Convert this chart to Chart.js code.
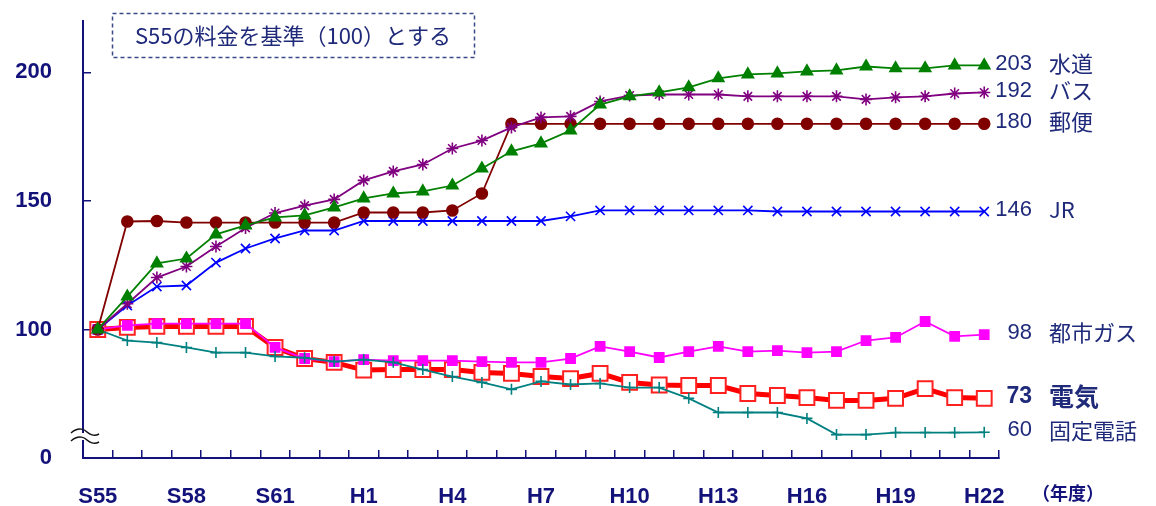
<!DOCTYPE html>
<html lang="ja">
<head>
<meta charset="utf-8">
<title>公共料金の推移</title>
<script src="https://cdn.jsdelivr.net/npm/chart.js@4.4.1/dist/chart.umd.min.js"></script>
<style>
  html, body { margin: 0; padding: 0; background: #fff; }
  #wrap { width: 1156px; height: 506px; }
</style>
</head>
<body>
<div id="wrap"><canvas id="chart" width="1156" height="506"></canvas></div>
<script>
// 年度 (S55 = 100)
const years = ['S55', 'S56', 'S57', 'S58', 'S59', 'S60', 'S61', 'S62', 'S63',
  'H1', 'H2', 'H3', 'H4', 'H5', 'H6', 'H7', 'H8', 'H9', 'H10', 'H11', 'H12',
  'H13', 'H14', 'H15', 'H16', 'H17', 'H18', 'H19', 'H20', 'H21', 'H22'];

const water = [100, 112.8, 125.7, 127.6, 137, 140.5, 143.6, 144.4, 147.5, 151, 152.9,
  153.7, 156, 162.6, 169.3, 172.4, 177.4, 187.5, 190.7, 192.2, 194.2,
  197.7, 199.2, 199.6, 200.4, 200.8, 202.3, 201.6, 201.6, 202.7, 202.7];
const bus = [100, 110, 120.2, 124.5, 132.3, 139.5, 145.3, 148.2, 150.6, 158, 161.5,
  164.2, 170.4, 173.5, 178.6, 182.5, 182.9, 188.7, 191, 191.4, 191.4,
  191.4, 190.7, 190.7, 190.7, 190.7, 189.5, 190.3, 190.7, 191.8, 192.2];
const post = [100, 142, 142.2, 141.6, 141.6, 141.6, 141.6, 141.6, 141.6, 145.5, 145.5,
  145.5, 146.3, 152.9, 180, 180, 180, 180, 180, 180, 180,
  180, 180, 180, 180, 180, 180, 180, 180, 180, 180];
const jr = [100, 109.3, 116.7, 117.1, 126, 131.5, 135.4, 138.5, 138.5, 142.2, 142.2,
  142.2, 142.2, 142.2, 142.2, 142.2, 144, 146.3, 146.3, 146.3, 146.3,
  146.3, 146.3, 145.9, 145.9, 145.9, 145.9, 145.9, 145.9, 145.9, 145.9];
const phone = [100, 95.7, 94.9, 93, 91, 91, 89.5, 89, 87.5, 88.3, 87.2,
  84.4, 81.7, 79.4, 76.7, 79.8, 78.6, 79, 77.4, 77.4, 73.2,
  67.7, 67.7, 67.7, 65.4, 59.1, 59.1, 59.9, 59.9, 59.9, 60];
const gas = [100, 101.6, 102.3, 102.3, 102.3, 102.3, 93, 88.7, 87.5, 88.3, 87.9,
  87.9, 87.9, 87.5, 87.2, 87.2, 88.7, 93.4, 91.4, 89.1, 91.4,
  93.4, 91.4, 91.8, 91, 91.4, 95.7, 96.9, 103.1, 97.3, 98];
const power = [100, 100.8, 101.2, 101.2, 101.2, 101.2, 93, 88.7, 87.2, 84.2, 84.4,
  84.4, 84.4, 83.3, 82.9, 81.7, 80.9, 82.9, 79.4, 78.4, 78.2,
  78.2, 75.1, 74.3, 73.5, 72.4, 72.4, 73.2, 77, 73.5, 73.2];

const yTicks = [50, 100, 150, 200]; // 50 is shown as "0" (axis break)
const shownYears = ['S55', 'S58', 'S61', 'H1', 'H4', 'H7', 'H10', 'H13', 'H16', 'H19', 'H22'];

const navy = '#12127a';
const textBlue = '#1f2a7a';

// number + name at the right end of each line
const endLabels = {
  id: 'endLabels',
  afterDatasetsDraw(chart) {
    const ctx = chart.ctx;
    const right = chart.chartArea.right;
    chart.data.datasets.forEach((ds, i) => {
      const meta = chart.getDatasetMeta(i);
      const pt = meta.data[meta.data.length - 1];
      const bold = ds.label === '電気';
      const y = pt.y - 2;
      ctx.save();
      ctx.fillStyle = textBlue;
      ctx.textBaseline = 'middle';
      ctx.textAlign = 'right';
      ctx.font = (bold ? 'bold 23px' : '22px') + ' "Liberation Sans", Arial, sans-serif';
      ctx.fillText(String(Math.round(ds.data[ds.data.length - 1])), right + 33, y);
      ctx.textAlign = 'left';
      ctx.font = (bold ? 'bold 25px' : '22px') + ' "Noto Sans CJK JP", sans-serif';
      ctx.fillText(ds.label, right + 50, y);
      ctx.restore();
    });
  }
};

// note box, axis break mark, unit
const extras = {
  id: 'extras',
  afterDraw(chart) {
    const ctx = chart.ctx;
    const area = chart.chartArea;
    ctx.save();

    // note box
    ctx.strokeStyle = '#3a4a88';
    ctx.lineWidth = 1.5;
    ctx.setLineDash([4, 3]);
    ctx.strokeRect(112.5, 13.5, 362, 44);
    ctx.setLineDash([]);
    ctx.fillStyle = textBlue;
    ctx.font = '22px "Noto Sans CJK JP", sans-serif';
    ctx.textAlign = 'center';
    ctx.textBaseline = 'middle';
    ctx.fillText('S55の料金を基準（100）とする', 293, 36);

    // axis break "≈"
    const bx = area.left - 12;
    const y1 = area.bottom - 26;
    const y2 = area.bottom - 18;
    const wave = (y0) => {
      ctx.beginPath();
      ctx.moveTo(bx, y0 + 1);
      ctx.bezierCurveTo(bx + 8, y0 - 6, bx + 14, y0 - 2, bx + 16, y0);
      ctx.bezierCurveTo(bx + 18, y0 + 2, bx + 23, y0 + 5, bx + 28, y0 + 2);
    };
    ctx.fillStyle = '#fff';
    ctx.fillRect(area.left - 2, y1 + 1, 4, y2 - y1 - 1);
    ctx.strokeStyle = '#111';
    ctx.lineWidth = 1.5;
    wave(y1);
    ctx.stroke();
    wave(y2);
    ctx.stroke();

    // unit
    ctx.fillStyle = navy;
    ctx.font = 'bold 18px "Noto Sans CJK JP", sans-serif';
    ctx.textAlign = 'center';
    ctx.fillText('（年度）', area.right + 69, area.bottom + 35);
    ctx.restore();
  }
};

const thin = (label, color, data, style, radius) => ({
  label: label,
  data: data,
  borderColor: color,
  backgroundColor: color,
  borderWidth: 1.8,
  pointStyle: style,
  pointRadius: radius,
  pointBorderColor: color,
  pointBackgroundColor: color,
  pointBorderWidth: 1.6,
  tension: 0
});

const datasets = [
  thin('水道', '#008000', water, 'triangle', 6.5),
  thin('バス', '#800080', bus, 'star', 6),
  thin('郵便', '#800000', post, 'circle', 5.5),
  thin('JR', '#0000ff', jr, 'crossRot', 6.5),
  thin('固定電話', '#008080', phone, 'cross', 5.5),
  thin('都市ガス', '#ff00ff', gas, 'rect', 6.5),
  {
    label: '電気',
    data: power,
    borderColor: '#ff0000',
    borderWidth: 5,
    pointStyle: 'rect',
    pointRadius: 10.5,
    pointBorderColor: '#ff2020',
    pointBackgroundColor: '#ffffff',
    pointBorderWidth: 2,
    tension: 0
  }
];

new Chart(document.getElementById('chart'), {
  type: 'line',
  data: { labels: years, datasets: datasets },
  options: {
    responsive: false,
    animation: false,
    layout: { padding: { top: 21, right: 157, left: 0, bottom: 0 } },
    plugins: {
      legend: { display: false },
      tooltip: { enabled: false }
    },
    scales: {
      x: {
        offset: true,
        grid: {
          offset: true,
          drawOnChartArea: false,
          drawTicks: true,
          tickLength: -8,
          color: navy,
          lineWidth: 1.5
        },
        border: { display: true, color: navy, width: 2 },
        ticks: {
          autoSkip: false,
          maxRotation: 0,
          padding: 34,
          color: navy,
          font: { family: '"Liberation Sans", Arial, sans-serif', size: 22, weight: 'bold' },
          callback: function (value) {
            const lab = this.getLabelForValue(value);
            return shownYears.includes(lab) ? lab : '';
          }
        },
        afterFit: (scale) => {
          scale.height = 48;
          scale.paddingLeft = 0;
          scale.paddingRight = 0;
        }
      },
      y: {
        min: 50,
        max: 220,
        afterBuildTicks: (scale) => { scale.ticks = yTicks.map(v => ({ value: v })); },
        grid: {
          drawOnChartArea: false,
          drawTicks: true,
          tickLength: -8,
          color: navy,
          lineWidth: 1.5
        },
        border: { display: true, color: navy, width: 2 },
        ticks: {
          padding: 39,
          color: navy,
          font: { family: '"Liberation Sans", Arial, sans-serif', size: 22, weight: 'bold' },
          callback: (v) => (v === 50 ? '0' : String(v))
        },
        afterFit: (scale) => {
          scale.width = 83;
          scale.paddingTop = 0;
          scale.paddingBottom = 0;
        }
      }
    }
  },
  plugins: [endLabels, extras]
});
</script>
</body>
</html>
